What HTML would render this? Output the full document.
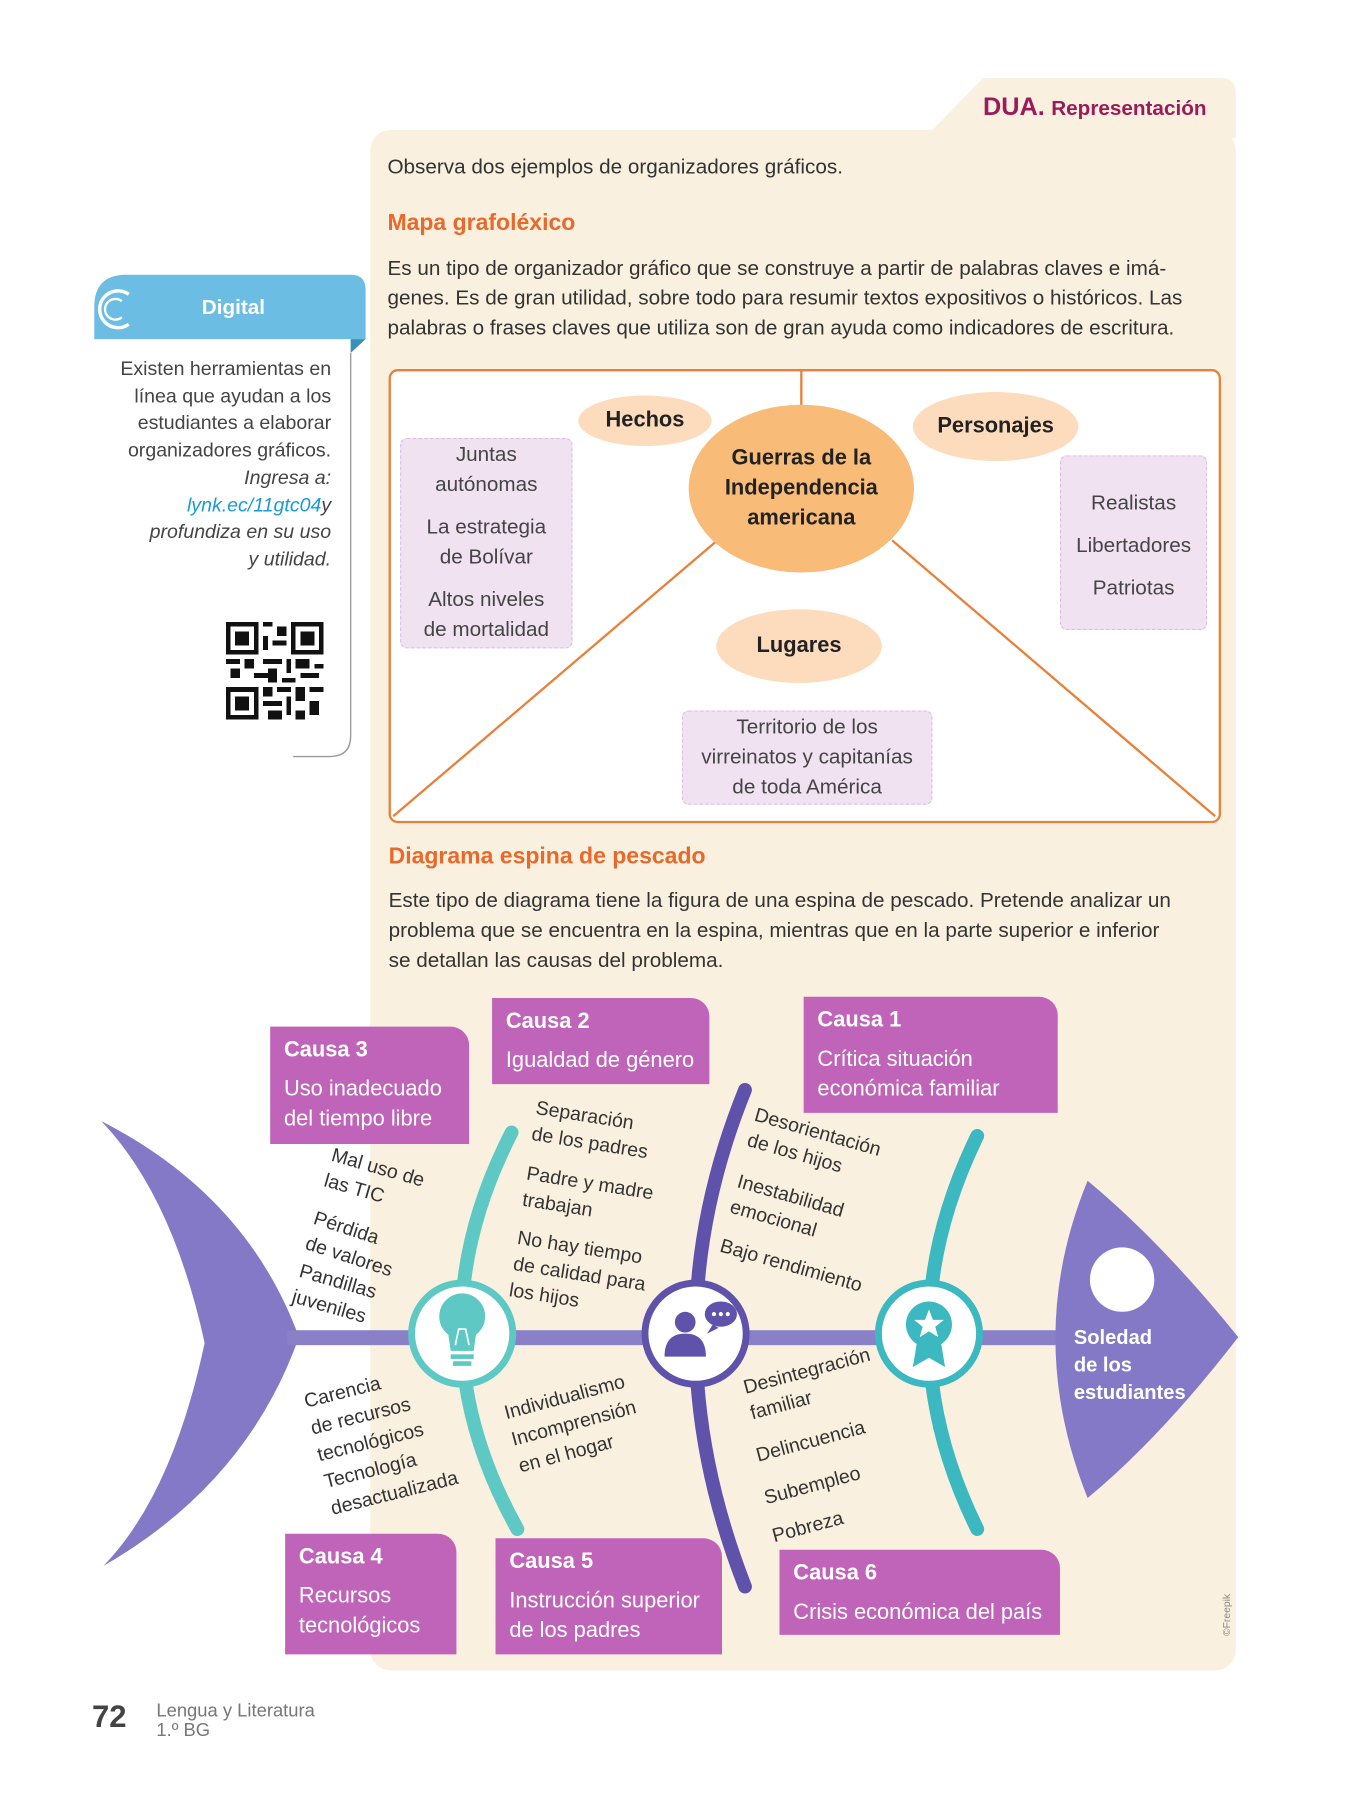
<!DOCTYPE html>
<html><head><meta charset="utf-8">
<style>
html,body{margin:0;padding:0;background:#fff;}
body{width:1350px;height:1800px;overflow:hidden;position:relative;}
#w{position:absolute;left:0;top:0;width:1175px;height:1566px;transform:scale(1.1497);transform-origin:0 0;font-family:"Liberation Sans",sans-serif;color:#333;}
.a{position:absolute;white-space:nowrap;}
.p{font-size:18px;line-height:26px;}
.h{color:#e8692a;font-weight:bold;font-size:20px;}
.lav{position:absolute;background:#f1e2f2;border:1.5px dashed #d9bfe0;border-radius:6px;text-align:center;font-size:18px;line-height:26px;color:#444;}
.ell{position:absolute;border-radius:50%;display:flex;align-items:center;justify-content:center;text-align:center;font-weight:bold;font-size:19px;color:#222;}
.c{position:absolute;background:#c064b9;color:#fff;border-top-right-radius:16px;box-sizing:border-box;padding:8px 12px;font-size:19px;line-height:26px;}
.c b{display:block;font-size:19px;margin-bottom:8px;}
.r{position:absolute;white-space:nowrap;font-size:17px;line-height:23px;color:#333;transform-origin:0 0;}
</style></head><body><div id="w">
<div class="a" style="left:322px;top:113px;width:753px;height:1340px;background:#faf0df;border-radius:18px;"></div>
<svg class="a" style="left:0;top:0" width="1175" height="1566">
<path d="M810,114 L855,68 L1062,68 Q1075,68 1075,82 L1075,120 L810,120 Z" fill="#faf0df"/>
</svg>
<div class="a" style="left:855px;top:80px;font-size:20px;color:#9b1b5a;"><b style="font-size:22px">DUA.</b> <b style="font-size:18px">Representación</b></div>
<div class="a p" style="left:337px;top:132px;">Observa dos ejemplos de organizadores gráficos.</div>
<div class="a h" style="left:337px;top:183px;">Mapa grafoléxico</div>
<div class="a p" style="left:337px;top:220px;">Es un tipo de organizador gráfico que se construye a partir de palabras claves e imá-<br>genes. Es de gran utilidad, sobre todo para resumir textos expositivos o históricos. Las<br>palabras o frases claves que utiliza son de gran ayuda como indicadores de escritura.</div>

<div class="a" style="left:338px;top:321px;width:720px;height:391px;border:2px solid #e8803a;border-radius:8px;background:#fff;"></div>
<svg class="a" style="left:0;top:0" width="1175" height="1566">
<line x1="697" y1="322" x2="697" y2="355" stroke="#e8803a" stroke-width="2"/>
<line x1="624" y1="470" x2="342" y2="710" stroke="#e8803a" stroke-width="2"/>
<line x1="776" y1="470" x2="1057" y2="710" stroke="#e8803a" stroke-width="2"/>
</svg>
<div class="ell" style="left:599px;top:352px;width:196px;height:146px;background:#f9bc78;line-height:26px;">Guerras de la<br>Independencia<br>americana</div>
<div class="ell" style="left:503px;top:344px;width:116px;height:44px;background:#fcdcbd;">Hechos</div>
<div class="ell" style="left:794px;top:341px;width:144px;height:60px;background:#fcdcbd;">Personajes</div>
<div class="ell" style="left:623px;top:530px;width:144px;height:64px;background:#fcdcbd;">Lugares</div>
<div class="lav" style="left:348px;top:381px;width:148px;height:181px;">Juntas<br>autónomas<div style="height:11px"></div>La estrategia<br>de Bolívar<div style="height:11px"></div>Altos niveles<br>de mortalidad</div>
<div class="lav" style="left:922px;top:396px;width:128px;height:152px;line-height:37px;padding-top:22px;box-sizing:border-box;">Realistas<br>Libertadores<br>Patriotas</div>
<div class="lav" style="left:593px;top:618px;width:216px;height:80px;">Territorio de los<br>virreinatos y capitanías<br>de toda América</div>

<svg class="a" style="left:0;top:0" width="1175" height="1566">
<path d="M110,239 L305,239 Q318,239 318,252 L318,295 L82,295 L82,267 Q82,239 110,239 Z" fill="#6bbde4"/>
<path d="M305,295 L318,295 L305,307 Z" fill="#3a8fb8"/>
<path d="M112,256 A16,16 0 1 0 112,282" fill="none" stroke="#fff" stroke-width="3"/>
<path d="M106,262 A9,9 0 1 0 106,276" fill="none" stroke="#fff" stroke-width="2"/>
<path d="M305,307 L305,640 Q305,658 287,658 L255,658" fill="none" stroke="#999" stroke-width="1.2"/>
</svg>
<div class="a" style="left:82px;top:257px;width:242px;text-align:center;color:#fff;font-weight:bold;font-size:18px;">Digital</div>
<div class="a" style="left:60px;top:309px;width:228px;text-align:right;font-size:17px;line-height:23.7px;color:#444;white-space:normal;">Existen herramientas en<br>línea que ayudan a los<br>estudiantes a elaborar<br>organizadores gráficos.<br><i>Ingresa a:</i><br><i style="color:#1a9ad6">lynk.ec/11gtc04</i><i>y</i><br><i>profundiza en su uso</i><br><i>y utilidad.</i></div>
<svg class="a" style="left:196px;top:541px" width="86" height="85" viewBox="0 0 21 21" shape-rendering="crispEdges">
<rect width="21" height="21" fill="#fff"/>
<g fill="#111">
<path d="M0,0h7v7h-7zM1,1v5h5v-5zM2,2h3v3h-3z" fill-rule="evenodd"/>
<path d="M14,0h7v7h-7zM15,1v5h5v-5zM16,2h3v3h-3z" fill-rule="evenodd"/>
<path d="M0,14h7v7h-7zM1,15v5h5v-5zM2,16h3v3h-3z" fill-rule="evenodd"/>
<rect x="8" y="0" width="2" height="1"/><rect x="11" y="1" width="2" height="2"/><rect x="8" y="3" width="1" height="3"/><rect x="10" y="4" width="3" height="1"/>
<rect x="0" y="8" width="3" height="1"/><rect x="4" y="8" width="2" height="2"/><rect x="8" y="8" width="4" height="1"/><rect x="13" y="8" width="1" height="3"/><rect x="15" y="8" width="3" height="2"/><rect x="19" y="9" width="2" height="1"/>
<rect x="1" y="10" width="2" height="2"/><rect x="6" y="11" width="3" height="1"/><rect x="9" y="10" width="2" height="3"/><rect x="16" y="11" width="4" height="1"/><rect x="12" y="12" width="3" height="1"/>
<rect x="8" y="14" width="2" height="2"/><rect x="11" y="14" width="3" height="1"/><rect x="15" y="14" width="2" height="3"/><rect x="18" y="14" width="3" height="1"/>
<rect x="8" y="17" width="4" height="1"/><rect x="13" y="16" width="1" height="4"/><rect x="18" y="17" width="2" height="3"/><rect x="9" y="19" width="3" height="2"/><rect x="15" y="19" width="2" height="2"/>
</g></svg>

<div class="a h" style="left:338px;top:734px;">Diagrama espina de pescado</div>
<div class="a p" style="left:338px;top:770px;">Este tipo de diagrama tiene la figura de una espina de pescado.  Pretende analizar un<br>problema que se encuentra en la espina, mientras que en la parte  superior  e inferior<br>se detallan las causas del problema.</div>

<svg class="a" style="left:0;top:0" width="1175" height="1566">
<path d="M88,975 Q215,1040 260,1163 Q215,1290 90,1362 Q150,1300 178,1168 Q150,1040 88,975 Z" fill="#8479c6"/>
<rect x="250" y="1157" width="690" height="13" fill="#8a80c8"/>
<path d="M1077,1163 Q1010,1250 946,1303 Q890,1163 946,1027 Q1010,1080 1077,1163 Z" fill="#8479c6"/>
<circle cx="976" cy="1113" r="28" fill="#fff"/>
<path d="M445,985 Q355,1160 450,1330" fill="none" stroke="#5ec8c4" stroke-width="12" stroke-linecap="round"/>
<path d="M648,948 Q562,1160 648,1380" fill="none" stroke="#5e52ab" stroke-width="12" stroke-linecap="round"/>
<path d="M850,988 Q766,1160 850,1330" fill="none" stroke="#3bb8c0" stroke-width="12" stroke-linecap="round"/>
<circle cx="402" cy="1160" r="44" fill="#fff" stroke="#5ec8c4" stroke-width="6"/>
<circle cx="605" cy="1160" r="44" fill="#fff" stroke="#5e52ab" stroke-width="6"/>
<circle cx="808" cy="1160" r="44" fill="#fff" stroke="#3bb8c0" stroke-width="6"/>
<path d="M402,1125 a20,20 0 0 1 12,36 l-2,14 h-20 l-2,-14 a20,20 0 0 1 12,-36z" fill="#5ec8c4"/>
<rect x="392" y="1178" width="20" height="4" fill="#5ec8c4"/><rect x="394" y="1184" width="16" height="4" fill="#5ec8c4"/>
<path d="M396,1170 l3,-14 h6 l3,14" fill="none" stroke="#fff" stroke-width="1.5"/>
<circle cx="596" cy="1150" r="9" fill="#5e52ab"/><path d="M578,1180 q0,-20 18,-20 q18,0 18,20z" fill="#5e52ab"/>
<ellipse cx="627" cy="1143" rx="14" ry="11" fill="#5e52ab"/><path d="M620,1152 l-5,8 l10,-5z" fill="#5e52ab"/>
<circle cx="621" cy="1143" r="1.8" fill="#fff"/><circle cx="627" cy="1143" r="1.8" fill="#fff"/><circle cx="633" cy="1143" r="1.8" fill="#fff"/>
<path d="M798,1165 l-4,24 l14,-8 l14,8 l-4,-24z" fill="#3bb8c0"/>
<circle cx="808" cy="1152" r="20" fill="#3bb8c0"/>
<polygon points="808,1139 811.5,1148 821,1148 813.5,1154 816,1163 808,1158 800,1163 802.5,1154 795,1148 804.5,1148" fill="#fff"/>
</svg>
<div class="a" style="left:934px;top:1151px;color:#fff;font-weight:bold;font-size:17.5px;line-height:24px;">Soledad<br>de los<br>estudiantes</div>

<div class="c" style="left:235px;top:893px;width:173px;height:102px;"><b>Causa 3</b>Uso inadecuado<br>del tiempo libre</div>
<div class="c" style="left:428px;top:868px;width:189px;height:75px;"><b>Causa 2</b>Igualdad de género</div>
<div class="c" style="left:699px;top:867px;width:221px;height:101px;"><b>Causa 1</b>Crítica situación<br>económica familiar</div>
<div class="c" style="left:248px;top:1334px;width:149px;height:105px;"><b>Causa 4</b>Recursos<br>tecnológicos</div>
<div class="c" style="left:431px;top:1338px;width:197px;height:101px;"><b>Causa 5</b>Instrucción superior<br>de los padres</div>
<div class="c" style="left:678px;top:1348px;width:244px;height:74px;"><b>Causa 6</b>Crisis económica del país</div>

<div class="r" style="left:292px;top:993px;transform:rotate(16deg);">Mal uso de<br>las TIC</div>
<div class="r" style="left:277px;top:1048px;transform:rotate(18deg);">Pérdida<br>de valores</div>
<div class="r" style="left:264px;top:1094px;transform:rotate(16deg);">Pandillas<br>juveniles</div>
<div class="r" style="left:468px;top:952px;transform:rotate(9deg);">Separación<br>de los padres</div>
<div class="r" style="left:460px;top:1009px;transform:rotate(9deg);">Padre y madre<br>trabajan</div>
<div class="r" style="left:452px;top:1065px;transform:rotate(9deg);">No hay tiempo<br>de calidad para<br>los hijos</div>
<div class="r" style="left:660px;top:958px;transform:rotate(16deg);">Desorientación<br>de los hijos</div>
<div class="r" style="left:645px;top:1016px;transform:rotate(16deg);">Inestabilidad<br>emocional</div>
<div class="r" style="left:630px;top:1072px;transform:rotate(16deg);">Bajo rendimiento</div>
<div class="r" style="left:262px;top:1208px;transform:rotate(-14deg);line-height:24px;">Carencia<br>de recursos<br>tecnológicos<br>Tecnología<br>desactualizada</div>
<div class="r" style="left:436px;top:1218px;transform:rotate(-15deg);line-height:24px;">Individualismo<br>Incomprensión<br>en el hogar</div>
<div class="r" style="left:644px;top:1196px;transform:rotate(-15deg);">Desintegración<br>familiar</div>
<div class="r" style="left:655px;top:1255px;transform:rotate(-15deg);">Delincuencia</div>
<div class="r" style="left:662px;top:1292px;transform:rotate(-15deg);">Subempleo</div>
<div class="r" style="left:669px;top:1325px;transform:rotate(-15deg);">Pobreza</div>
<div class="a" style="left:1062px;top:1423px;font-size:9px;color:#888;transform:rotate(-90deg);transform-origin:0 0;">©Freepik</div>

<div class="a" style="left:80px;top:1478px;font-size:27px;font-weight:bold;color:#444;">72</div>
<div class="a" style="left:136px;top:1480px;font-size:16px;line-height:17px;color:#777;">Lengua y Literatura<br>1.º BG</div>
</div></body></html>
